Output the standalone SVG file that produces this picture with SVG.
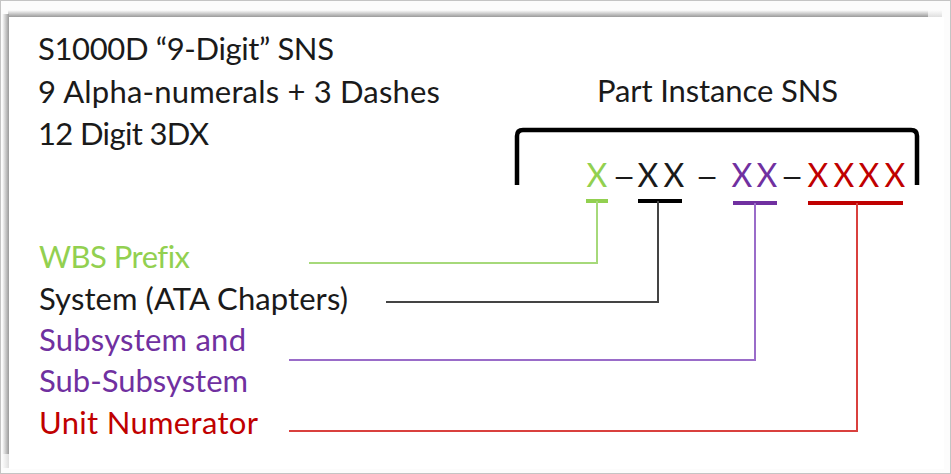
<svg xmlns="http://www.w3.org/2000/svg" width="951" height="474" viewBox="0 0 951 474">
<defs>
<linearGradient id="topSh" x1="0" y1="0" x2="0" y2="1"><stop offset="0" stop-color="#ffffff"/><stop offset="1" stop-color="#9a9a9a"/></linearGradient>
<linearGradient id="leftSh" x1="0" y1="0" x2="1" y2="0"><stop offset="0" stop-color="#ffffff"/><stop offset="1" stop-color="#9a9a9a"/></linearGradient>
<style>
text{font-family:Lato,"Liberation Sans",sans-serif;font-size:31px;font-variant-ligatures:none;}
.blk{fill:#1a1a1a}
.grn{fill:#92d050}
.pur{fill:#7030a0}
.red{fill:#c00000}
.code{text-anchor:middle;font-size:32px}
.dash{text-anchor:middle;font-family:"Liberation Sans",sans-serif;font-size:30px;fill:#1a1a1a}
.bar{stroke-width:4;fill:none}
.conn{stroke-width:2;fill:none}
</style>
</defs>
<rect x="0.5" y="0.5" width="950" height="473" fill="#fcfcfc" stroke="#c4c4c4"/>
<rect x="8" y="10" width="920" height="7" fill="url(#topSh)"/>
<rect x="928" y="10" width="14" height="7" fill="url(#topSh)" opacity="0.3"/>
<rect x="2" y="14" width="7" height="440" fill="url(#leftSh)"/>
<rect x="2" y="454" width="7" height="14" fill="url(#leftSh)" opacity="0.3"/>
<rect x="9" y="17" width="935" height="452" fill="#ffffff"/>

<g id="title">
<text class="blk" x="38" y="60" textLength="296">S1000D “9-Digit” SNS</text>
<text class="blk" x="38" y="103" textLength="402">9 Alpha-numerals + 3 Dashes</text>
<text class="blk" x="38" y="145" textLength="171">12 Digit 3DX</text>
</g>

<g id="part-instance">
<text class="blk" x="597" y="102" textLength="241">Part Instance SNS</text>
<path d="M517,185 V136 Q517,130 523,130 H911 Q917,130 917,136 V185" stroke="#000" stroke-width="4.5" fill="none"/>
</g>

<g id="code">
<text class="grn code" x="597" y="187">X</text>
<text class="dash" x="624" y="186">–</text>
<text class="blk code" x="648" y="187">X</text>
<text class="blk code" x="674" y="187">X</text>
<text class="dash" x="707" y="186">–</text>
<text class="pur code" x="742" y="187">X</text>
<text class="pur code" x="767" y="187">X</text>
<text class="dash" x="792" y="186">–</text>
<text class="red code" x="818" y="187">X</text>
<text class="red code" x="844" y="187">X</text>
<text class="red code" x="869" y="187">X</text>
<text class="red code" x="895" y="187">X</text>
</g>

<g id="wbs-prefix"><text class="grn" x="39" y="268" textLength="151">WBS Prefix</text></g>
<g id="system"><text class="blk" x="39" y="310" textLength="309">System (ATA Chapters)</text></g>
<g id="subsystem">
<text class="pur" x="39" y="351" textLength="207">Subsystem and</text>
<text class="pur" x="39" y="392" textLength="209">Sub-Subsystem</text>
</g>
<g id="unit-numerator"><text class="red" x="39" y="434" textLength="219">Unit Numerator</text></g>

<g id="connectors">
<path class="bar" d="M586,201 H608" stroke="#92d050"/>
<path class="bar" d="M638,201 H682" stroke="#000"/>
<path class="bar" d="M733,203 H777" stroke="#7030a0"/>
<path class="bar" d="M808,203 H903" stroke="#c00000"/>
<path class="conn" d="M597,201 V263 H309" stroke="#a6d97a"/>
<path class="conn" d="M658,201 V302 H386" stroke="#444444"/>
<path class="conn" d="M755,203 V360 H289" stroke="#9a6cc9"/>
<path class="conn" d="M857,203 V431 H289" stroke="#d9403e"/>
</g>
</svg>
